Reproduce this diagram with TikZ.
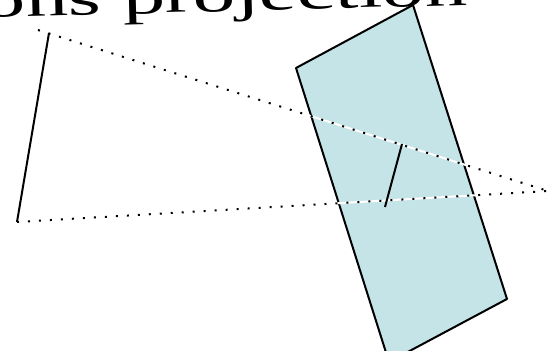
\documentclass[tikz,border=0pt]{standalone}
\usepackage{fontspec}
\setmainfont{Liberation Serif}
\usepackage{xcolor}
\usetikzlibrary{positioning, calc}
\definecolor{planeblue}{RGB}{197,228,232}

\begin{document}
\begin{tikzpicture}[
  x=0.5pt, y=-0.5pt,
  plane/.style={draw, line width=1pt, fill=planeblue, line join=round},
  solid line/.style={line width=1pt},
  ray/.style={line width=1pt, dash pattern=on 1pt off 4.5pt},
  rayback/.style={line width=1pt, white}
]
  \useasboundingbox (0,0) rectangle (550,351);
  \clip (0,0) rectangle (550,351);

  % title, cut off by the top edge
  \node[anchor=base east, inner sep=0, rotate=1.5] (title) at (468,5)
    {\scalebox{1.7}[1]{\fontsize{25}{25}\selectfont ons projection}};

  % points
  \coordinate (eye) at (548,191);
  \coordinate (objtop) at (49,33);
  \coordinate (objbot) at (17,222);
  \coordinate (raystart) at (38,30);
  \coordinate (imgtop) at (402,144);
  \coordinate (imgbot) at (385,207);
  \coordinate (pa) at (413,5);
  \coordinate (pb) at (296,68);
  \coordinate (pc) at (389,362);
  \coordinate (pd) at (507,299);

  % projection plane
  \draw[plane] (pa) -- (pb) -- (pc) -- (pd) -- cycle;

  % rays to the eye
  \draw[rayback] (raystart) -- (eye);
  \draw[rayback] (objbot) -- (eye);
  \draw[ray] (raystart) -- (eye);
  \draw[ray] (objbot) -- (eye);

  % object and its image
  \draw[solid line] (objtop) -- (objbot);
  \draw[solid line] (imgtop) -- (imgbot);
\end{tikzpicture}
\end{document}
